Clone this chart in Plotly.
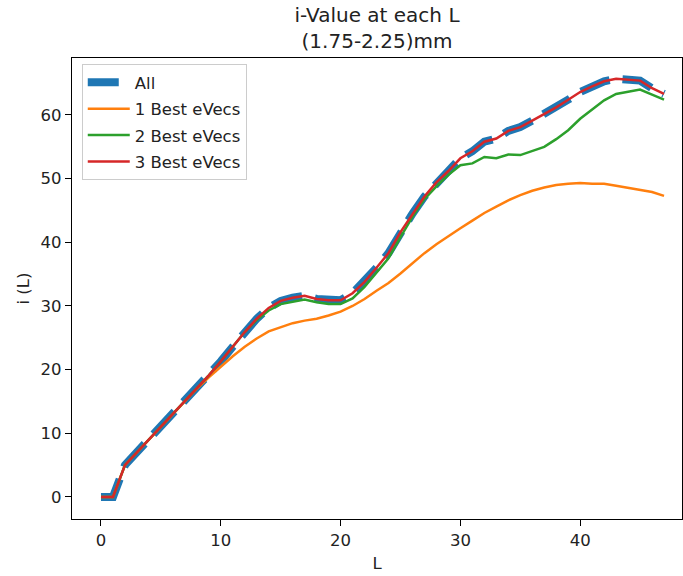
import plotly.graph_objects as go

L = list(range(48))

all_vals = [0, 0, 5.0, 7.0, 9.0, 11.0, 13.0, 15.0, 17.0, 19.1, 21.3, 23.6, 25.9, 28.0, 29.7, 30.8,
            31.3, 31.6, 31.1, 30.9, 30.9, 32.0, 33.8, 36.0, 38.3, 41.6, 44.5, 47.2, 49.4, 51.2,
            53.2, 54.3, 55.8, 56.3, 57.5, 58.1, 59.1, 60.1, 61.2, 62.4, 63.6, 64.5, 65.3, 65.7,
            65.6, 65.4, 64.2, 63.3]

best1 = [0, 0, 5.0, 7.0, 9.0, 11.0, 13.0, 15.0, 17.0, 18.8, 20.5, 22.1, 23.6, 24.9, 26.0, 26.7,
         27.3, 27.7, 28.0, 28.5, 29.1, 30.0, 31.1, 32.4, 33.6, 35.1, 36.7, 38.3, 39.7, 41.0,
         42.2, 43.4, 44.6, 45.6, 46.6, 47.4, 48.1, 48.6, 49.0, 49.2, 49.3, 49.2, 49.2, 48.9,
         48.6, 48.2, 47.9, 47.3]

best2 = [0, 0, 5.0, 7.0, 9.0, 11.0, 13.0, 15.0, 17.0, 19.1, 21.3, 23.6, 25.9, 27.8, 29.3, 30.3,
         30.7, 31.0, 30.6, 30.3, 30.3, 31.2, 33.0, 35.3, 37.5, 40.8, 44.0, 46.8, 48.8, 50.6,
         52.1, 52.4, 53.4, 53.2, 53.8, 53.7, 54.4, 55.0, 56.2, 57.6, 59.4, 60.9, 62.3, 63.3,
         63.7, 64.0, 63.2, 62.4]

best3 = [0, 0, 5.0, 7.0, 9.0, 11.0, 13.0, 15.0, 17.0, 19.1, 21.3, 23.6, 25.9, 28.0, 29.7, 30.8,
         31.3, 31.6, 31.1, 30.9, 30.9, 32.0, 33.8, 36.0, 38.3, 41.6, 44.5, 47.2, 49.4, 51.2,
         53.2, 54.3, 55.8, 56.3, 57.5, 58.1, 59.1, 60.1, 61.2, 62.4, 63.6, 64.5, 65.3, 65.7,
         65.6, 65.4, 64.2, 63.3]

names = ["All", "1 Best eVecs", "2 Best eVecs", "3 Best eVecs"]
x_ticks = [0, 10, 20, 30, 40]
y_ticks = [0, 10, 20, 30, 40, 50, 60]

FONT = "DejaVu Sans"
FS = 16.5

fig = go.Figure()
fig.add_trace(go.Scatter(x=L, y=all_vals, mode="lines", name=names[0], legendgroup="a",
                         line=dict(color="#1f77b4", width=8, dash="31px,13px")))
fig.add_trace(go.Scatter(x=L, y=best1, mode="lines", name=names[1], legendgroup="b",
                         line=dict(color="#ff7f0e", width=2.5)))
fig.add_trace(go.Scatter(x=L, y=best2, mode="lines", name=names[2], legendgroup="c",
                         line=dict(color="#2ca02c", width=2.5)))
fig.add_trace(go.Scatter(x=L, y=best3, mode="lines", name=names[3], legendgroup="d",
                         line=dict(color="#d62728", width=2.5)))

axis_common = dict(showline=True, linecolor="black", linewidth=1.3, mirror=True,
                   ticks="outside", ticklen=6, tickcolor="black", tickwidth=1.3,
                   showgrid=False, zeroline=False, automargin=False,
                   tickfont=dict(family=FONT, size=FS, color="#222222"))

fig.update_layout(
    width=683, height=576,
    margin=dict(l=72, r=1, t=58, b=57),
    paper_bgcolor="white", plot_bgcolor="white",
    font=dict(family=FONT, color="#222222"),
    title=dict(text="i-Value at each L<br>(1.75-2.25)mm", x=0.5, xref="paper",
               y=0.962, yref="container", yanchor="top",
               font=dict(family=FONT, size=20, color="#222222")),
    xaxis=dict(range=[-2.42, 48.5], tickvals=x_ticks,
               title=dict(text="L", font=dict(family=FONT, size=FS, color="#222222"), standoff=8),
               **axis_common),
    yaxis=dict(range=[-3.46, 68.95], tickvals=y_ticks,
               title=dict(text="i (L)", font=dict(family=FONT, size=FS, color="#222222"), standoff=6),
               **axis_common),
    legend=dict(x=0.016, y=0.987, xanchor="left", yanchor="top",
                bgcolor="rgba(255,255,255,0.8)", bordercolor="#cccccc", borderwidth=1,
                traceorder="grouped", tracegroupgap=2, itemwidth=42,
                font=dict(family=FONT, size=FS, color="#222222")),
    showlegend=True,
)

fig.write_html("out.html", config={"displayModeBar": False},
               post_script="document.body.style.margin='0';")
